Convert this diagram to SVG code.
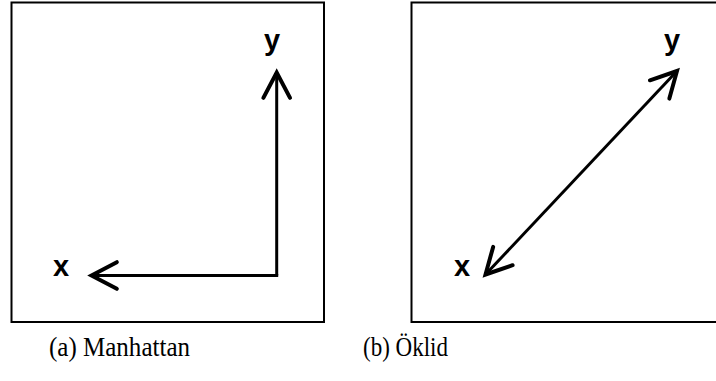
<svg xmlns="http://www.w3.org/2000/svg" width="716" height="381" viewBox="0 0 716 381">
  <style>
    .frame { fill: #fff; stroke: #000; stroke-width: 2; }
    .conn { fill: none; stroke: #000; stroke-width: 3; }
    .lbl { font-family: "Liberation Sans", Arial, sans-serif; font-weight: bold; font-size: 29px; fill: #000; text-anchor: middle; }
    .cap { font-family: "Liberation Serif", "Times New Roman", serif; font-size: 28px; fill: #000; }
  </style>
  <defs>
    <marker id="arr" markerUnits="userSpaceOnUse" markerWidth="40" markerHeight="40" refX="0" refY="0" viewBox="-25 -15 30 30" orient="auto-start-reverse" overflow="visible">
      <path d="M-19,-10 L0,0 L-19,10" fill="none" stroke="#000" stroke-width="3" stroke-linecap="round" stroke-linejoin="miter"/>
    </marker>
  </defs>
  <rect width="716" height="381" fill="#fff"/>
  <g id="panel-a">
    <rect class="frame" x="11.5" y="2.5" width="312.5" height="319.5"/>
    <text class="lbl" x="272" y="50">y</text>
    <text class="lbl" x="61" y="276">x</text>
  </g>
  <g id="panel-b">
    <rect class="frame" x="411.5" y="2.5" width="320" height="319.5"/>
    <text class="lbl" x="672" y="50">y</text>
    <text class="lbl" x="462" y="276">x</text>
  </g>
  <g id="connectors">
    <path class="conn" d="M276.7,275.5 L276.7,72.5" marker-end="url(#arr)"/>
    <path class="conn" d="M278.2,275.5 L91.5,275.5" marker-end="url(#arr)"/>
    <path class="conn" d="M485.5,274.5 L677,71" marker-start="url(#arr)" marker-end="url(#arr)"/>
  </g>
  <g id="captions">
    <text class="cap" x="49" y="356" textLength="141" lengthAdjust="spacingAndGlyphs">(a) Manhattan</text>
    <text class="cap" x="363" y="356" textLength="85" lengthAdjust="spacingAndGlyphs">(b) Öklid</text>
  </g>
</svg>
